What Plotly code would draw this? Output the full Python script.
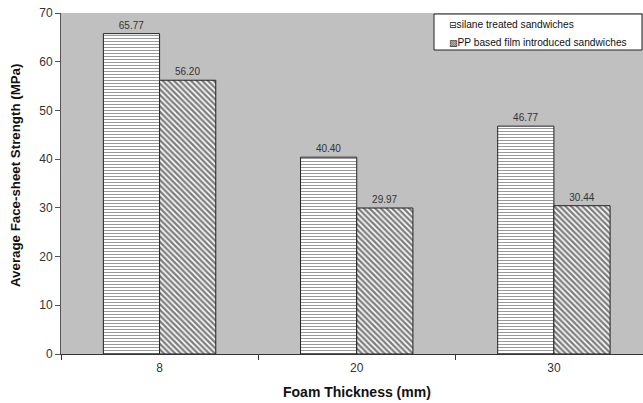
import plotly.graph_objects as go

categories = ["8", "20", "30"]
silane = [65.77, 40.40, 46.77]
pp_film = [56.20, 29.97, 30.44]
series_names = ["silane treated sandwiches", "PP based film introduced sandwiches"]
y_ticks = [0, 10, 20, 30, 40, 50, 60, 70]

W, H = 643, 403
L, R, T, B = 61, 0, 13, 49
PW, PH = W - L - R, H - T - B


def px(x):
    return (x - L) / PW


def py(y):
    return (H - B - y) / PH


FONT = "Liberation Sans, Arial"

fig = go.Figure()
fig.add_trace(go.Bar(
    x=categories, y=silane, name=series_names[0],
    text=[f"{v:.2f}" for v in silane], textposition="outside",
    textfont=dict(size=10, color="#333333", family=FONT),
    marker=dict(color="white", line=dict(color="#222222", width=1),
                pattern=dict(shape="-", fgcolor="#333333", bgcolor="white", size=3, solidity=0.35)),
    cliponaxis=False, showlegend=False,
))
fig.add_trace(go.Bar(
    x=categories, y=pp_film, name=series_names[1],
    text=[f"{v:.2f}" for v in pp_film], textposition="outside",
    textfont=dict(size=10, color="#333333", family=FONT),
    marker=dict(color="white", line=dict(color="#222222", width=1),
                pattern=dict(shape="\\", fgcolor="#000000", bgcolor="white", size=4, solidity=0.6)),
    cliponaxis=False, showlegend=False,
))

# custom legend box
fig.add_shape(type="rect", xref="paper", yref="paper",
              x0=px(434), x1=px(642), y0=py(50), y1=py(14),
              fillcolor="white", line=dict(color="#222222", width=1), layer="above")
legend_icons = ["\u229f", "\u25a7"]
for i, (icon, name) in enumerate(zip(legend_icons, series_names)):
    fig.add_annotation(xref="paper", yref="paper", x=px(447), y=py(25 + 17 * i),
                       xanchor="left", yanchor="middle", showarrow=False,
                       text=f"<span style='font-family:DejaVu Sans;font-size:9px'>{icon}</span>{name}",
                       font=dict(size=10.2, color="#111111", family=FONT))

# axis titles
fig.add_annotation(xref="paper", yref="paper", x=px(15), y=py(176), textangle=-90,
                   showarrow=False, xanchor="center", yanchor="middle",
                   text="<b>Average Face-sheet Strength (MPa)</b>",
                   font=dict(size=13.3, color="#111111", family=FONT))
fig.add_annotation(xref="paper", yref="paper", x=px(357), y=py(392),
                   showarrow=False, xanchor="center", yanchor="middle",
                   text="<b>Foam Thickness (mm)</b>",
                   font=dict(size=14, color="#111111", family=FONT))

fig.update_layout(
    width=W, height=H,
    margin=dict(l=L, r=R, t=T, b=B, autoexpand=False),
    paper_bgcolor="white", plot_bgcolor="#c0c0c0",
    barmode="group", bargap=0.43, bargroupgap=0,
    font=dict(family=FONT, size=12, color="#222222"),
    showlegend=False,
    xaxis=dict(type="category", range=[-0.5, 2.452], automargin=False,
               showline=True, linecolor="#333333", linewidth=1,
               ticks="outside", tickson="boundaries", ticklen=5, tickcolor="#333333",
               ticklabelstandoff=3,
               tickfont=dict(size=12, color="#333333")),
    yaxis=dict(range=[0, 70], tickvals=y_ticks, showgrid=False, zeroline=False, automargin=False,
               showline=True, linecolor="#555555", linewidth=1,
               ticks="outside", ticklen=5, tickcolor="#555555",
               tickfont=dict(size=12, color="#333333")),
)

fig.write_html("out.html", config={"displayModeBar": False},
               post_script="document.body.style.margin='0';document.body.style.overflow='hidden';")
